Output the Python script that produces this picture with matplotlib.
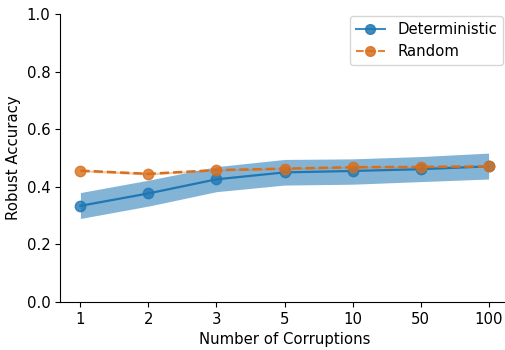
import numpy as np
import matplotlib.pyplot as plt

corruptions = ["1", "2", "3", "5", "10", "50", "100"]
det_mean = [0.334, 0.377, 0.426, 0.450, 0.455, 0.461, 0.471]
det_low = [0.290, 0.333, 0.383, 0.406, 0.409, 0.418, 0.427]
det_high = [0.380, 0.423, 0.470, 0.495, 0.497, 0.505, 0.517]
rand_mean = [0.456, 0.445, 0.458, 0.463, 0.468, 0.469, 0.471]
rand_low = [0.452, 0.441, 0.455, 0.460, 0.465, 0.466, 0.468]
rand_high = [0.460, 0.449, 0.461, 0.466, 0.471, 0.472, 0.474]

plt.rcParams["font.size"] = 10.7

x = np.arange(len(corruptions))
blue = "#1f77b4"
orange = "#d96f1c"

fig = plt.figure(figsize=(5.05, 3.5), dpi=100)
ax = fig.add_axes([60 / 505, 48 / 350, 449 / 505, 288 / 350])

ax.fill_between(x, det_low, det_high, color=blue, alpha=0.55, linewidth=0)
ax.plot(x, det_mean, "-", color=blue, lw=1.6)
ax.plot(x, det_mean, "o", color=blue, alpha=0.8, ms=7.5)
ax.fill_between(x, rand_low, rand_high, color=orange, alpha=0.35, linewidth=0)
ax.plot(x, rand_mean, "--", color=orange, lw=1.8)
ax.plot(x, rand_mean, "o", color=orange, alpha=0.8, ms=7.5)

# legend proxies
ax.plot([], [], "-o", color=blue, alpha=0.85, ms=7, label="Deterministic")
ax.plot([], [], "--o", color=orange, alpha=0.85, ms=7, label="Random")

ax.set_xticks(x)
ax.set_xticklabels(corruptions)
ax.set_xlim(-0.3, 6.3)
ax.set_ylim(0, 1)
ax.set_xlabel("Number of Corruptions")
ax.set_ylabel("Robust Accuracy")
ax.spines["top"].set_visible(False)
ax.spines["right"].set_visible(False)

ax.legend(loc="upper right", bbox_to_anchor=(503 / 505, 1 - 16 / 350),
          bbox_transform=fig.transFigure, borderaxespad=0)

fig.savefig("out.png", dpi=100)
